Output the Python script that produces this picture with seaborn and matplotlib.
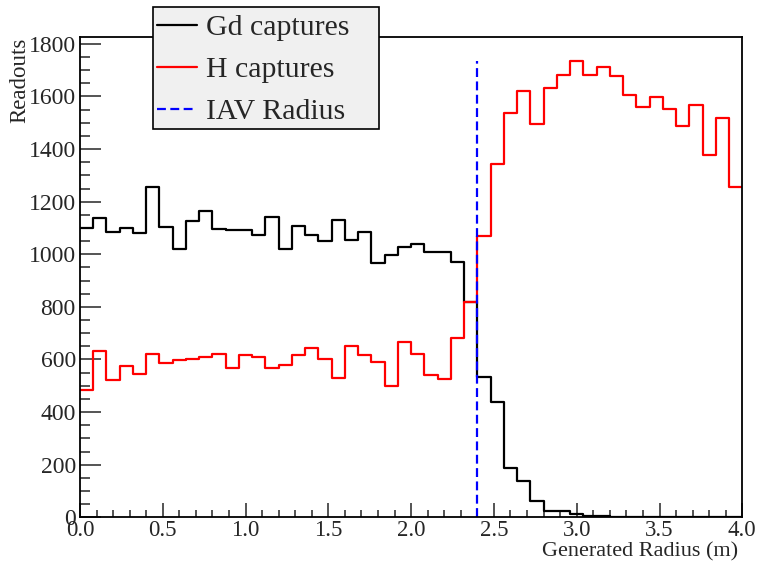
import numpy as np
import pandas as pd
import matplotlib
matplotlib.use("Agg")
import matplotlib.pyplot as plt
from matplotlib.lines import Line2D
from matplotlib.patches import Rectangle
from matplotlib.ticker import MultipleLocator, FormatStrFormatter
import seaborn as sns

# ---- data ----
bin_edges = [round(0.08 * i, 2) for i in range(51)]
gd_counts = [1099, 1139, 1084, 1101, 1080, 1256, 1103, 1019, 1127, 1165,
             1096, 1091, 1091, 1073, 1143, 1019, 1108, 1072, 1051, 1130,
             1054, 1084, 966, 997, 1029, 1039, 1009, 1009, 970, 820,
             535, 437, 189, 138, 63, 25, 24, 12, 6, 4,
             3, 2, 2, 1, 1, 1, 0, 0, 0, 0]
h_counts = [485, 631, 522, 576, 544, 620, 587, 599, 602, 611,
            621, 568, 618, 610, 566, 578, 616, 643, 602, 530,
            650, 617, 589, 499, 668, 621, 541, 526, 680, 820,
            1069, 1343, 1539, 1621, 1497, 1632, 1682, 1736, 1681, 1712,
            1678, 1606, 1559, 1599, 1551, 1487, 1567, 1376, 1519, 1256]
iav_radius = 2.4
iav_top = 1736
series_labels = ["Gd captures", "H captures", "IAV Radius"]
x_label = "Generated Radius (m)"
y_label = "Readouts"

sns.set_style("ticks")
plt.rcParams["font.family"] = ["Liberation Serif", "DejaVu Serif"]
plt.rcParams["mathtext.fontset"] = "stix"

W, H = 758, 561
fig = plt.figure(figsize=(W / 100, H / 100), dpi=100)
ax = fig.add_axes([80 / W, 1 - 517.3 / H, (742.3 - 80) / W, (517.3 - 37.3) / H])

edges = np.array(bin_edges)
centers = (edges[:-1] + edges[1:]) / 2
df = pd.DataFrame({"r": centers, "gd": gd_counts, "h": h_counts})

sns.histplot(data=df, x="r", weights="gd", bins=list(bin_edges), element="step",
             fill=False, color="black", linewidth=1.6, ax=ax)
sns.histplot(data=df, x="r", weights="h", bins=list(bin_edges), element="step",
             fill=False, color="#ff0000", linewidth=1.6, ax=ax)
ax.plot([iav_radius, iav_radius], [0, iav_top], color="#0000ff",
        linewidth=1.6, linestyle=(0, (4, 2)))

ax.set_xlim(0, 4)
ax.set_ylim(0, 1825)
ax.set_xlabel("")
ax.set_ylabel("")

ax.xaxis.set_major_locator(MultipleLocator(0.5))
ax.xaxis.set_minor_locator(MultipleLocator(0.1))
ax.yaxis.set_major_locator(MultipleLocator(200))
ax.yaxis.set_minor_locator(MultipleLocator(50))
ax.xaxis.set_major_formatter(FormatStrFormatter("%.1f"))
ax.yaxis.set_major_formatter(FormatStrFormatter("%d"))

ax.tick_params(axis="x", which="major", direction="in", length=10, width=1.1,
               labelsize=16.5, pad=2, top=False)
ax.tick_params(axis="x", which="minor", direction="in", length=5, width=1.1,
               top=False)
ax.tick_params(axis="y", which="major", direction="in", length=15, width=1.1,
               labelsize=17, pad=3, right=False)
ax.tick_params(axis="y", which="minor", direction="in", length=7.5, width=1.1,
               right=False)
for s in ax.spines.values():
    s.set_visible(True)
    s.set_linewidth(1.3)
    s.set_color("black")

fig.text(738 / W, 1 - 556 / H, x_label, ha="right", va="baseline", fontsize=16)
fig.text(20 / W, 1 - 38 / H, y_label, ha="center", va="top", rotation=90,
         fontsize=16.5)

# legend box (fixed size, as in the reference)
box = Rectangle((153 / W, 1 - 129 / H), (379 - 153) / W, (129 - 7) / H,
                transform=fig.transFigure, facecolor="#f0f0f0",
                edgecolor="black", linewidth=1.2, zorder=9)
fig.patches.append(box)

handles = [Line2D([], [], color="black", linewidth=1.6),
           Line2D([], [], color="#ff0000", linewidth=1.6),
           Line2D([], [], color="#0000ff", linewidth=1.6, linestyle=(0, (4, 2)))]
leg = fig.legend(handles, series_labels, loc="upper left",
                 bbox_to_anchor=(157 / W, 1 - 14.5 / H), bbox_transform=fig.transFigure,
                 fontsize=21.5, frameon=False, handlelength=1.35,
                 handletextpad=0.3, labelspacing=0.5, borderpad=0.0,
                 borderaxespad=0)
leg.set_zorder(10)

fig.savefig("out.png", dpi=100)
